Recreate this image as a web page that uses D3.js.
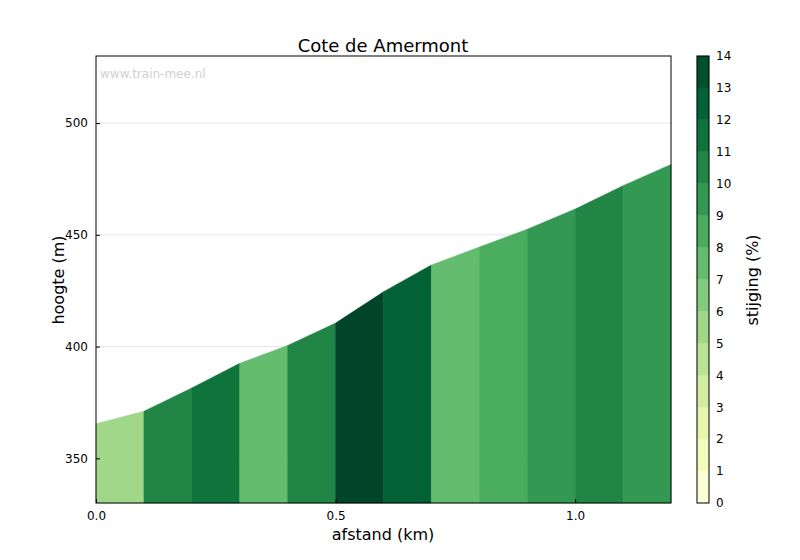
<!DOCTYPE html>
<html><head><meta charset="utf-8">
<script src="https://cdn.jsdelivr.net/npm/d3@7"></script>
<style>body{margin:0;background:#fff}text{font-family:"DejaVu Sans",sans-serif}</style>
</head><body><svg id="c" width="800" height="560"></svg>
<script>
const distances=[0,0.1,0.2,0.3,0.4,0.5,0.6,0.7,0.8,0.9,1.0,1.1,1.2];
const elevations=[365.5,371,381.5,392.5,400.5,410.5,424.5,436.5,444.5,452.5,461.5,472,481.5];
const yTicks=[350,400,450,500];
const xTicks=[0,0.5,1.0];
const cbTicks=[0,1,2,3,4,5,6,7,8,9,10,11,12,13,14];
const svg=d3.select("#c");
const L=96,R=671,T=56,B=503;
const x=d3.scaleLinear().domain([0,1.2]).range([L,R]);
const y=d3.scaleLinear().domain([330,530]).range([B,T]);
const col=v=>d3.interpolateYlGn(0.02+0.98*(Math.floor(v)+0.5)/14);
// grid
svg.selectAll(".g").data(yTicks).join("line").attr("x1",L).attr("x2",R).attr("y1",d=>y(d)).attr("y2",d=>y(d)).attr("stroke","#e6e6e6");
// segments
for(let i=0;i<distances.length-1;i++){
 const g=(elevations[i+1]-elevations[i])/((distances[i+1]-distances[i])*1000)*100;
 const pts=[[x(distances[i]),y(330)],[x(distances[i]),y(elevations[i])],[x(distances[i+1]),y(elevations[i+1])],[x(distances[i+1]),y(330)]];
 svg.append("path").attr("d","M"+pts.join("L")+"Z").attr("fill",col(g)).attr("stroke",col(g)).attr("stroke-width",0.5);
}
svg.append("text").attr("x",100).attr("y",78).attr("font-size",12).attr("fill","#d0d0d0").text("www.train-mee.nl");
svg.append("rect").attr("x",L).attr("y",T).attr("width",R-L).attr("height",B-T).attr("fill","none").attr("stroke","#000");
const ax=svg.append("g").attr("transform",`translate(0,${B})`).call(d3.axisBottom(x).tickValues(xTicks).tickFormat(d3.format(".1f")).tickSizeInner(-4).tickSizeOuter(0).tickPadding(8));
const ay=svg.append("g").attr("transform",`translate(${L},0)`).call(d3.axisLeft(y).tickValues(yTicks).tickSizeInner(-4).tickSizeOuter(0).tickPadding(8));
[ax,ay].forEach(a=>{a.select(".domain").remove();a.selectAll("text").attr("font-size",12).attr("fill","#000");});
svg.append("text").attr("x",383).attr("y",52).attr("text-anchor","middle").attr("font-size",18).text("Cote de Amermont");
svg.append("text").attr("x",383).attr("y",540).attr("text-anchor","middle").attr("font-size",16).text("afstand (km)");
svg.append("text").attr("transform","translate(64,280) rotate(-90)").attr("text-anchor","middle").attr("font-size",16).text("hoogte (m)");
// colorbar
const cy=d3.scaleLinear().domain([0,14]).range([B,T]);
for(let i=0;i<14;i++) svg.append("rect").attr("x",697).attr("width",12).attr("y",cy(i+1)).attr("height",cy(i)-cy(i+1)).attr("fill",col(i+0.5)).attr("stroke",col(i+0.5)).attr("stroke-width",0.3);
svg.append("rect").attr("x",697).attr("width",12).attr("y",T).attr("height",B-T).attr("fill","none").attr("stroke","#000");
const ac=svg.append("g").attr("transform","translate(709,0)").call(d3.axisRight(cy).tickValues(cbTicks).tickSizeInner(0).tickSizeOuter(0).tickPadding(7));
ac.select(".domain").remove();ac.selectAll("text").attr("font-size",12).attr("fill","#000");
svg.append("text").attr("transform","translate(758,280) rotate(-90)").attr("text-anchor","middle").attr("font-size",16).text("stijging (%)");
</script></body></html>
